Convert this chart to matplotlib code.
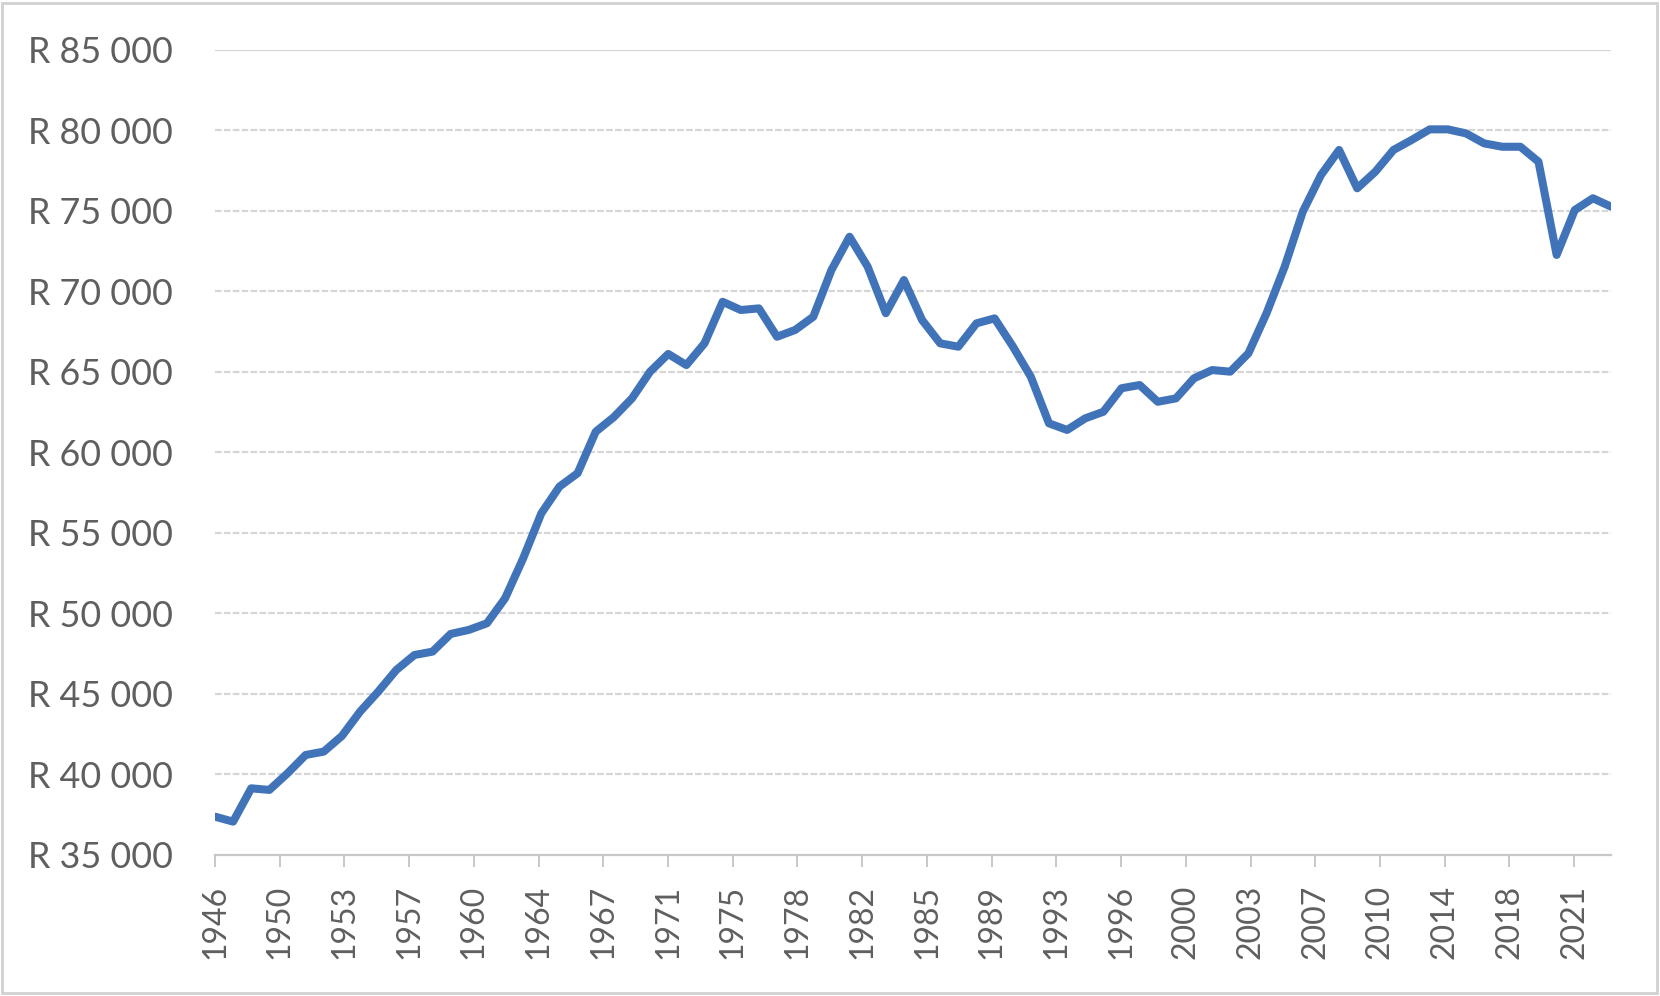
import numpy as np
import matplotlib
matplotlib.use('Agg')
import matplotlib.pyplot as plt
from matplotlib.patches import Rectangle
from matplotlib.ticker import FuncFormatter

years = list(range(1946, 2024))
values = [
    37380, 37070, 39140, 39040, 40070, 41210, 41420, 42390, 43900, 45140,
    46490, 47420, 47630, 48730, 48980, 49390, 50940, 53430, 56220, 57880,
    58710, 61290, 62200, 63360, 65020, 66120, 65430, 66780, 69360, 68850,
    68950, 67190, 67610, 68430, 71330, 73400, 71540, 68650, 70710, 68230,
    66780, 66570, 68020, 68330, 66600, 64700, 61810, 61400, 62120, 62530,
    63990, 64190, 63150, 63360, 64610, 65120, 65020, 66160, 68650, 71540,
    74960, 77230, 78790, 76410, 77440, 78790, 79410, 80070, 80070, 79820,
    79200, 78990, 78990, 78060, 72270, 75060, 75790, 75270,
]

# Excel category axis shows a label roughly every 3.57 points
tick_labels = ["1946", "1950", "1953", "1957", "1960", "1964", "1967", "1971",
               "1975", "1978", "1982", "1985", "1989", "1993", "1996", "2000",
               "2003", "2007", "2010", "2014", "2018", "2021"]
y_ticks = list(range(35000, 90000, 5000))

LINE_COLOR = "#4173b9"
GRID_COLOR = "#d6d6d6"
TEXT_COLOR = "#5f5f5f"

plt.rcParams['font.family'] = ['Lato', 'DejaVu Sans']

fig = plt.figure(figsize=(16.6, 9.96), dpi=100)
ax = fig.add_axes([0.1295, 0.1416, 0.8410, 0.8082])

ax.plot(years, values, color=LINE_COLOR, linewidth=5.8,
        solid_joinstyle='round', solid_capstyle='round', zorder=3)

ax.set_xlim(years[0], years[-1])
ax.set_ylim(y_ticks[0], y_ticks[-1])

# gridlines: top one solid, the rest fine dashes
for v in y_ticks[1:]:
    if v == y_ticks[-1]:
        ax.axhline(v, color=GRID_COLOR, linewidth=1.6, zorder=1)
    else:
        ax.axhline(v, color=GRID_COLOR, linewidth=1.6, linestyle=(0, (3, 1)), zorder=1)

step = (years[-1] - years[0]) / 21.57
ax.set_xticks([years[0] + k * step for k in range(len(tick_labels))])
ax.set_xticklabels(tick_labels, rotation=90, va='top', ha='center')
ax.set_yticks(y_ticks)
ax.yaxis.set_major_formatter(FuncFormatter(lambda v, p: "R " + f"{int(v):,}".replace(",", " ")))

for s in ['top', 'right', 'left']:
    ax.spines[s].set_visible(False)
ax.spines['bottom'].set_color("#c8c8c8")
ax.spines['bottom'].set_linewidth(1.6)
ax.spines['bottom'].set_linestyle((0, (3, 1)))

ax.tick_params(axis='x', length=8.6, width=1.4, color="#c8c8c8", pad=13,
               labelsize=23, labelcolor=TEXT_COLOR)
ax.tick_params(axis='y', length=0, pad=30, labelsize=25.8, labelcolor=TEXT_COLOR)

# chart area border
fig.patches.append(Rectangle((0.001, 0.003), 0.997, 0.994, transform=fig.transFigure,
                             fill=False, edgecolor="#d0d0d0", linewidth=2))

fig.savefig("out.png", dpi=100)
